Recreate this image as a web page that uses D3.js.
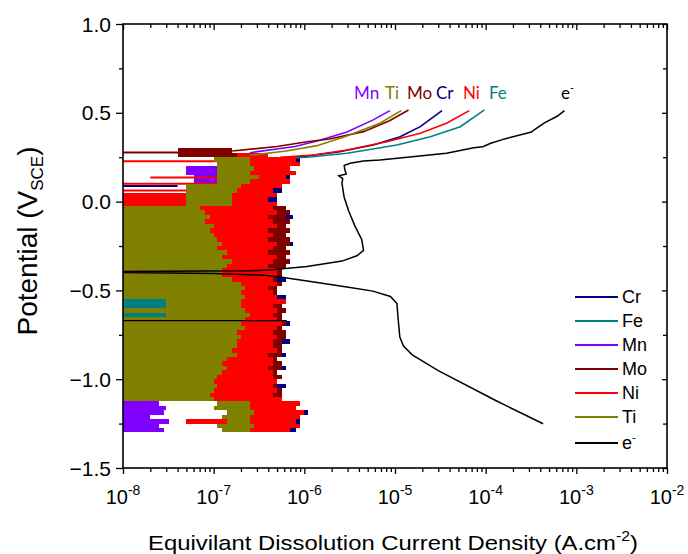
<!DOCTYPE html>
<html>
<head>
<meta charset="utf-8">
<script src="https://cdn.jsdelivr.net/npm/d3@7"></script>
<style>
  body { margin: 0; background: #fff; }
  svg { display: block; }
  text { font-family: "Liberation Sans", Arial, sans-serif; fill: #000; }
</style>
</head>
<body>
<script>
// band boundaries (V vs SCE), the noisy part of each trace is drawn band by band
var potentials = [0.3, 0.275, 0.25, 0.225, 0.2, 0.175, 0.15, 0.125,
  0.1, 0.075, 0.05, 0.025, 0, -0.025, -0.05, -0.075,
  -0.1, -0.125, -0.15, -0.175, -0.2, -0.225, -0.25, -0.275,
  -0.3, -0.325, -0.35, -0.375, -0.4, -0.425, -0.45, -0.475,
  -0.5, -0.525, -0.55, -0.575, -0.6, -0.625, -0.65, -0.675,
  -0.7, -0.725, -0.75, -0.775, -0.8, -0.825, -0.85, -0.875,
  -0.9, -0.925, -0.95, -0.975, -1.0, -1.025, -1.05, -1.075,
  -1.1, -1.125, -1.15, -1.175, -1.2, -1.225, -1.25, -1.275, -1.3];

// left / right edge of each band (A.cm-2)
var crLo = [null, null, 1e-7, 1.1e-7, 1.1e-7, 1.1e-7, 1.1e-7, 1.1e-7,
  5e-8, 5e-8, 1e-8, 1e-8, 1e-8, 1e-8, 1e-8, 1e-8,
  1e-8, 1e-8, 1e-8, 1e-8, 1e-8, 1e-8, 1e-8, 1e-8,
  1e-8, 1e-8, 1e-8, 1e-8, 1e-8, 1e-8, 1e-8, 1e-8,
  1e-8, 1e-8, 3e-8, 3e-8, 1e-8, 3e-8, 1e-8, 1e-8,
  1e-8, 1e-8, 1e-8, 1e-8, 1e-8, 1e-8, 1e-8, 1e-8,
  1e-8, 1e-8, 1e-8, 1e-8, 1e-8, 1e-8, 1e-8, 1e-8,
  1e-8, 2e-7, 2e-7, 2e-7, 2e-7, 2e-7, 2e-7, 2e-7];
var crHi = [null, null, 9e-7, 6e-7, 6e-7, 7e-7, 7e-7, 6e-7,
  5e-7, 5.6e-7, 4.5e-7, 5e-7, 4.5e-7, 4e-7, 5e-7, 7.5e-7,
  4e-7, 4e-7, 5e-7, 4e-7, 4e-7, 7.5e-7, 4e-7, 4e-7,
  4e-7, 5e-7, 4e-7, 4e-7, 4e-7, 6.3e-7, 4e-7, 4e-7,
  4e-7, 6.3e-7, 4e-7, 4e-7, 4e-7, 4e-7, 4e-7, 7e-7,
  4e-7, 4e-7, 4e-7, 7e-7, 4e-7, 4e-7, 6.3e-7, 4e-7,
  4e-7, 6.3e-7, 4e-7, 4e-7, 4e-7, 6.3e-7, 4e-7, 4e-7,
  4e-7, 8e-7, 8e-7, 1.1e-6, 8e-7, 9e-7, 8e-7, 8e-7];

var feLo = [null, null, 1e-7, 1.1e-7, 1.1e-7, 1.1e-7, 1.1e-7, 1.1e-7,
  5e-8, 5e-8, 1e-8, 1e-8, 1e-8, 1e-8, 1e-8, 1e-8,
  1e-8, 1e-8, 1e-8, 1e-8, 1e-8, 1e-8, 1e-8, 1e-8,
  1e-8, 1e-8, 1e-8, 1e-8, 1e-8, 1e-8, 1e-8, 1e-8,
  1e-8, 1e-8, 1e-8, 1e-8, 1e-8, 1e-8, 1e-8, 1e-8,
  1e-8, 1e-8, 1e-8, 1e-8, 1e-8, 1e-8, 1e-8, 1e-8,
  1e-8, 1e-8, 1e-8, 1e-8, 1e-8, 1e-8, 1e-8, 1e-8,
  1e-8, 2e-7, 2e-7, 2e-7, 2e-7, 2e-7, 2e-7, 2e-7];
var feHi = [null, null, 4e-7, 4e-7, 4e-7, 4e-7, 4e-7, 4e-7,
  4e-7, 4e-7, 4e-7, 4e-7, 4e-7, 4e-7, 4e-7, 4e-7,
  4e-7, 4e-7, 4e-7, 4e-7, 4e-7, 4e-7, 4e-7, 4e-7,
  4e-7, 4e-7, 4e-7, 4e-7, 4e-7, 4e-7, 4e-7, 4e-7,
  4e-7, 4e-7, 3e-7, 3e-7, 4e-7, 3e-7, 4e-7, 4e-7,
  4e-7, 4e-7, 4e-7, 4e-7, 4e-7, 4e-7, 4e-7, 4e-7,
  4e-7, 4e-7, 4e-7, 4e-7, 4e-7, 4e-7, 4e-7, 4e-7,
  4e-7, 5e-7, 5e-7, 5e-7, 5e-7, 5e-7, 5e-7, 5e-7];

var mnLo = [null, null, 1e-7, 1.1e-7, 5e-8, 5e-8, 6e-8, 6e-8,
  5e-8, 5e-8, 1e-8, 1e-8, 1e-8, 1e-8, 1e-8, 1e-8,
  1e-8, 1e-8, 1e-8, 1e-8, 1e-8, 1e-8, 1e-8, 1e-8,
  1e-8, 1e-8, 1e-8, 1e-8, 1e-8, 1e-8, 1e-8, 1e-8,
  1e-8, 1e-8, 3e-8, 3e-8, 1e-8, 3e-8, 1e-8, 1e-8,
  1e-8, 1e-8, 1e-8, 1e-8, 1e-8, 1e-8, 1e-8, 1e-8,
  1e-8, 1e-8, 1e-8, 1e-8, 1e-8, 1e-8, 1e-8, 1e-8,
  1e-8, 1e-8, 1e-8, 1e-8, 1e-8, 1e-8, 1e-8, 1e-8];
var mnHi = [null, null, 2e-7, 2e-7, 1.1e-7, 1.1e-7, 1.1e-7, 1.1e-7,
  2e-7, 2e-7, 2e-7, 2e-7, 2e-7, 2e-7, 2e-7, 2e-7,
  2e-7, 2e-7, 2e-7, 2e-7, 2e-7, 2e-7, 2e-7, 2e-7,
  2e-7, 2e-7, 2e-7, 2e-7, 2e-7, 2e-7, 2e-7, 2e-7,
  2e-7, 2e-7, 2e-7, 2e-7, 2e-7, 2e-7, 2e-7, 2e-7,
  2e-7, 2e-7, 2e-7, 2e-7, 2e-7, 2e-7, 2e-7, 2e-7,
  2e-7, 2e-7, 2e-7, 2e-7, 2e-7, 2e-7, 2e-7, 2e-7,
  2e-7, 2.5e-8, 3e-8, 2.8e-8, 2e-8, 3.2e-8, 2.5e-8, 2.8e-8];

var moLo = [4e-8, 4e-8, 1e-7, 1.1e-7, 1.1e-7, 1.1e-7, 1.1e-7, 1.1e-7,
  5e-8, 5e-8, 1e-8, 1e-8, 1e-8, 1e-8, 1e-8, 1e-8,
  1e-8, 1e-8, 1e-8, 1e-8, 1e-8, 1e-8, 1e-8, 1e-8,
  1e-8, 1e-8, 1e-8, 1e-8, 1e-8, 1e-8, 1e-8, 1e-8,
  1e-8, 1e-8, 3e-8, 3e-8, 1e-8, 3e-8, 1e-8, 1e-8,
  1e-8, 1e-8, 1e-8, 1e-8, 1e-8, 1e-8, 1e-8, 1e-8,
  1e-8, 1e-8, 1e-8, 1e-8, 1e-8, 1e-8, 1e-8, 1e-8,
  1e-8, 2e-7, 2e-7, 2e-7, 2e-7, 2e-7, 2e-7, 2e-7];
var moHi = [1.6e-7, 1.8e-7, 4e-7, 4e-7, 4e-7, 4e-7, 4e-7, 4e-7,
  4e-7, 4e-7, 4e-7, 4e-7, 4.5e-7, 6.3e-7, 7e-7, 6.3e-7,
  7e-7, 6.3e-7, 7e-7, 6.3e-7, 7e-7, 7e-7, 6.3e-7, 7e-7,
  6.3e-7, 7e-7, 6.3e-7, 5.6e-7, 5.6e-7, 5e-7, 5.6e-7, 5e-7,
  5e-7, 5e-7, 5.6e-7, 5.6e-7, 6.3e-7, 5.6e-7, 5.6e-7, 6.3e-7,
  5.6e-7, 6.3e-7, 6.3e-7, 5.6e-7, 5.6e-7, 5.6e-7, 5.6e-7, 5e-7,
  5.6e-7, 5.6e-7, 5e-7, 5.6e-7, 5e-7, 5e-7, 5.6e-7, 5.6e-7,
  5e-7, 3.2e-7, 3.2e-7, 3.2e-7, 3.2e-7, 3.2e-7, 3.2e-7, 3.2e-7];

var niLo = [null, 1.8e-7, 1e-7, 1.1e-7, 1.1e-7, 1.1e-7, 1.1e-7, 1.1e-7,
  5e-8, 5e-8, 1e-8, 1e-8, 1e-8, 1e-8, 1e-8, 1e-8,
  1e-8, 1e-8, 1e-8, 1e-8, 1e-8, 1e-8, 1e-8, 1e-8,
  1e-8, 1e-8, 1e-8, 1e-8, 1e-8, 1e-8, 1e-8, 1e-8,
  1e-8, 1e-8, 3e-8, 3e-8, 1e-8, 3e-8, 1e-8, 1e-8,
  1e-8, 1e-8, 1e-8, 1e-8, 1e-8, 1e-8, 1e-8, 1e-8,
  1e-8, 1e-8, 1e-8, 1e-8, 1e-8, 1e-8, 1e-8, 1e-8,
  1e-8, 2e-7, 2.5e-7, 2e-7, 2.2e-7, 5e-8, 2e-7, 2.2e-7];
var niHi = [null, 4e-7, 8e-7, 9e-7, 7e-7, 8e-7, 6.3e-7, 7e-7,
  5.6e-7, 4.5e-7, 5e-7, 4e-7, 5e-7, 4.5e-7, 5e-7, 4e-7,
  4.5e-7, 5e-7, 4e-7, 4.5e-7, 4e-7, 5e-7, 4.5e-7, 4e-7,
  5e-7, 4.5e-7, 4e-7, 5e-7, 5e-7, 4.5e-7, 5e-7, 4e-7,
  4.5e-7, 5e-7, 6.3e-7, 4.5e-7, 5e-7, 4.5e-7, 5e-7, 5.6e-7,
  5e-7, 4.5e-7, 5e-7, 4.5e-7, 4.5e-7, 5e-7, 4e-7, 4.5e-7,
  4.5e-7, 4e-7, 4.5e-7, 4.5e-7, 5e-7, 4.5e-7, 5e-7, 4.5e-7,
  5.6e-7, 9e-7, 8e-7, 1e-6, 9e-7, 8e-7, 9e-7, 7e-7];

var tiLo = [null, null, 1e-7, 1.1e-7, 1.1e-7, 1.1e-7, 1.1e-7, 1.1e-7,
  5e-8, 5e-8, 5e-8, 5e-8, 5e-8, 1e-8, 1e-8, 1e-8,
  1e-8, 1e-8, 1e-8, 1e-8, 1e-8, 1e-8, 1e-8, 1e-8,
  1e-8, 1e-8, 1e-8, 1e-8, 1e-8, 1e-8, 1e-8, 1e-8,
  1e-8, 1e-8, 3e-8, 3e-8, 1e-8, 3e-8, 1e-8, 1e-8,
  1e-8, 1e-8, 1e-8, 1e-8, 1e-8, 1e-8, 1e-8, 1e-8,
  1e-8, 1e-8, 1e-8, 1e-8, 1e-8, 1e-8, 1e-8, 1e-8,
  1e-8, 1.1e-7, 1e-7, 1.4e-7, 1.25e-7, 1.4e-7, 1.1e-7, 1.25e-7];
var tiHi = [null, null, 2.5e-7, 2.5e-7, 2.8e-7, 2.5e-7, 3.2e-7, 2.5e-7,
  2e-7, 1.8e-7, 1.6e-7, 1.6e-7, 1.6e-7, 7e-8, 8e-8, 9e-8,
  8e-8, 1e-7, 9e-8, 1e-7, 1.1e-7, 1.25e-7, 1.1e-7, 1.4e-7,
  1.25e-7, 1.6e-7, 1.4e-7, 1.25e-7, 1.25e-7, 1.6e-7, 2e-7, 2.2e-7,
  2e-7, 2.2e-7, 2e-7, 2e-7, 2.2e-7, 2.5e-7, 2.2e-7, 2e-7,
  2.2e-7, 1.8e-7, 2e-7, 1.8e-7, 1.8e-7, 1.6e-7, 1.8e-7, 1.4e-7,
  1.25e-7, 1.4e-7, 1.25e-7, 1.1e-7, 1e-7, 1.1e-7, 1e-7, 9e-8,
  1e-7, 2.5e-7, 2.5e-7, 2.8e-7, 2.5e-7, 2.5e-7, 2.8e-7, 2.5e-7];

// single thin excursions that stand out from the bands: [potential, from, to]
var crStreaks = [[0.088, 5e-9, 4e-8]];
var moStreaks = [[0.276, 5e-9, 1.6e-7]];
var niStreaks = [[0.227, 5e-9, 8e-7], [0.135, 2e-8, 5e-7], [0.1, 5e-9, 4e-7], [0.062, 5e-9, 3e-7]];

// anodic branches above the noisy region: [potential, current]
var crUpper = [[0.244, 5.4e-7], [0.257, 1.07e-6], [0.281, 2.45e-6], [0.319, 5.75e-6], [0.365, 1.14e-5], [0.422, 1.9e-5], [0.512, 3.3e-5]];
var feUpper = [[0.245, 5.4e-7], [0.25, 1.07e-6], [0.272, 2.95e-6], [0.319, 1.05e-5], [0.365, 2.45e-5], [0.422, 5.25e-5], [0.516, 9.7e-5]];
var mnUpper = [[0.275, 2.5e-7], [0.31, 7.9e-7], [0.345, 1.48e-6], [0.392, 2.95e-6], [0.46, 5.75e-6], [0.512, 8.8e-6]];
var moUpper = [[0.285, 1.6e-7], [0.31, 5e-7], [0.337, 1.07e-6], [0.352, 1.9e-6], [0.394, 4.5e-6], [0.455, 8.7e-6], [0.516, 1.41e-5]];
var niUpper = [[0.25, 5.4e-7], [0.262, 1.26e-6], [0.291, 2.95e-6], [0.337, 8.1e-6], [0.385, 1.9e-5], [0.441, 3.7e-5], [0.512, 6.6e-5]];
var tiUpper = [[0.26, 2.5e-7], [0.285, 6.3e-7], [0.315, 1.38e-6], [0.37, 2.95e-6], [0.441, 6.8e-6], [0.512, 1.17e-5]];

// electron current (total polarisation curve)
var eCurve = [[-1.251, 4.3e-4], [-1.12, 1.29e-4], [-0.952, 3.0e-5], [-0.863, 1.55e-5], [-0.813, 1.24e-5],
  [-0.763, 1.13e-5], [-0.653, 1.08e-5], [-0.574, 1.05e-5], [-0.534, 8.9e-6], [-0.504, 5.7e-6],
  [-0.484, 3.2e-6], [-0.454, 1.33e-6], [-0.424, 5.4e-7], [-0.414, 3.5e-7], [-0.405, 1e-7],
  [-0.398, 5e-9], [-0.394, 5e-9], [-0.39, 2.5e-7], [-0.384, 4.4e-7], [-0.365, 1.07e-6],
  [-0.335, 2.6e-6], [-0.305, 3.8e-6], [-0.275, 4.5e-6], [-0.215, 4.3e-6], [-0.135, 3.6e-6],
  [-0.056, 3.1e-6], [0.024, 2.75e-6], [0.104, 2.6e-6], [0.13, 2.65e-6], [0.145, 2.4e-6],
  [0.155, 2.9e-6], [0.178, 2.8e-6], [0.203, 2.75e-6], [0.216, 3.2e-6], [0.228, 4.5e-6],
  [0.234, 6.8e-6], [0.243, 1e-5], [0.272, 3.7e-5], [0.303, 7.4e-5], [0.309, 9.3e-5],
  [0.327, 1.12e-4], [0.353, 1.62e-4], [0.392, 3.2e-4], [0.403, 3.4e-4], [0.442, 4.4e-4],
  [0.482, 6.2e-4], [0.512, 7.4e-4]];
var eSpike = [[-0.67, 5e-9], [-0.67, 6.4e-7]];

var names = ["Cr", "Fe", "Mn", "Mo", "Ni", "Ti"];
var colors = ["#000080", "#008080", "#8000ff", "#800000", "#ff0000", "#808000"];
var topLabels = ["Mn", "Ti", "Mo", "Cr", "Ni", "Fe"];
var topLabelX = [354, 385, 407, 436, 463, 489];

var series = [
  {name: "Cr", lo: crLo, hi: crHi, up: crUpper, streaks: crStreaks},
  {name: "Fe", lo: feLo, hi: feHi, up: feUpper, streaks: []},
  {name: "Mn", lo: mnLo, hi: mnHi, up: mnUpper, streaks: []},
  {name: "Mo", lo: moLo, hi: moHi, up: moUpper, streaks: moStreaks},
  {name: "Ni", lo: niLo, hi: niHi, up: niUpper, streaks: niStreaks},
  {name: "Ti", lo: tiLo, hi: tiHi, up: tiUpper, streaks: []}
];

var w = 688, h = 554;
var margin = {top: 24, right: 21, bottom: 86, left: 123};
var innerW = w - margin.left - margin.right,
    innerH = h - margin.top - margin.bottom;

var svg = d3.select("body").append("svg")
    .attr("width", w)
    .attr("height", h);

var x = d3.scaleLog().domain([1e-8, 1e-2]).range([margin.left, margin.left + innerW]);
var y = d3.scaleLinear().domain([-1.5, 1.0]).range([margin.top + innerH, margin.top]);

svg.append("clipPath").attr("id", "plotClip")
  .append("rect")
    .attr("x", margin.left).attr("y", margin.top)
    .attr("width", innerW).attr("height", innerH);

var plot = svg.append("g").attr("clip-path", "url(#plotClip)");

var line = d3.line()
    .x(function (d) { return x(d[1]); })
    .y(function (d) { return y(d[0]); });

series.forEach(function (s) {
  var color = colors[names.indexOf(s.name)];
  var rows = [];
  s.lo.forEach(function (lo, i) {
    if (lo != null && s.hi[i] != null) {
      rows.push({top: potentials[i], bottom: potentials[i + 1], lo: lo, hi: s.hi[i]});
    }
  });
  var g = plot.append("g").attr("class", "series " + s.name);
  g.selectAll("rect")
    .data(rows)
    .enter().append("rect")
      .attr("x", function (d) { return x(d.lo); })
      .attr("y", function (d) { return y(d.top); })
      .attr("width", function (d) { return x(d.hi) - x(d.lo); })
      .attr("height", function (d) { return y(d.bottom) - y(d.top); })
      .style("fill", color)
      .style("shape-rendering", "crispEdges");
  g.selectAll("line.streak")
    .data(s.streaks)
    .enter().append("line")
      .attr("class", "streak")
      .attr("x1", function (d) { return x(d[1]); })
      .attr("x2", function (d) { return x(d[2]); })
      .attr("y1", function (d) { return y(d[0]); })
      .attr("y2", function (d) { return y(d[0]); })
      .style("stroke", color)
      .style("stroke-width", 2);
  g.append("path")
    .datum(s.up)
    .attr("d", line)
    .style("fill", "none")
    .style("stroke", color)
    .style("stroke-width", 1.6);
});

plot.append("path").datum(eSpike).attr("d", line)
  .style("fill", "none").style("stroke", "#000").style("stroke-width", 1.3);
plot.append("path").datum(eCurve).attr("d", line)
  .style("fill", "none").style("stroke", "#000").style("stroke-width", 1.5);

// axes
var decades = [1e-8, 1e-7, 1e-6, 1e-5, 1e-4, 1e-3, 1e-2];
var minorX = [];
decades.slice(0, -1).forEach(function (d) {
  for (var k = 2; k < 10; k++) minorX.push(d * k);
});
var majorY = [-1.5, -1.0, -0.5, 0, 0.5, 1.0];
var minorY = [-1.25, -0.75, -0.25, 0.25, 0.75];

function tidy(g) {
  g.select(".domain").remove();
  g.selectAll("line").style("stroke", "#000").style("stroke-width", 1.3);
  g.selectAll("text").remove();
}

svg.append("g").attr("transform", "translate(0," + (margin.top + innerH) + ")")
  .call(d3.axisBottom(x).tickValues(decades).tickSize(6).tickFormat("")).call(tidy);
svg.append("g").attr("transform", "translate(0," + (margin.top + innerH) + ")")
  .call(d3.axisBottom(x).tickValues(minorX).tickSize(4).tickFormat("")).call(tidy);
svg.append("g").attr("transform", "translate(0," + margin.top + ")")
  .call(d3.axisTop(x).tickValues(decades).tickSize(-6).tickFormat("")).call(tidy);
svg.append("g").attr("transform", "translate(0," + margin.top + ")")
  .call(d3.axisTop(x).tickValues(minorX).tickSize(-4).tickFormat("")).call(tidy);
svg.append("g").attr("transform", "translate(" + margin.left + ",0)")
  .call(d3.axisLeft(y).tickValues(majorY).tickSize(7).tickFormat("")).call(tidy);
svg.append("g").attr("transform", "translate(" + margin.left + ",0)")
  .call(d3.axisLeft(y).tickValues(minorY).tickSize(4).tickFormat("")).call(tidy);
svg.append("g").attr("transform", "translate(" + (margin.left + innerW) + ",0)")
  .call(d3.axisRight(y).tickValues(majorY).tickSize(-5).tickFormat("")).call(tidy);
svg.append("g").attr("transform", "translate(" + (margin.left + innerW) + ",0)")
  .call(d3.axisRight(y).tickValues(minorY).tickSize(-4).tickFormat("")).call(tidy);

svg.append("rect")
  .attr("x", margin.left).attr("y", margin.top)
  .attr("width", innerW).attr("height", innerH)
  .style("fill", "none").style("stroke", "#000").style("stroke-width", 1.6);

// tick labels
svg.selectAll(".ylab").data(majorY).enter().append("text")
  .attr("class", "ylab")
  .attr("x", margin.left - 12)
  .attr("y", function (d) { return y(d); })
  .attr("dy", "0.36em")
  .attr("text-anchor", "end")
  .style("font-size", "21px")
  .text(function (d) { return d3.format(".1f")(d); });

var xlab = svg.selectAll(".xlab").data(decades).enter().append("text")
  .attr("class", "xlab")
  .attr("x", function (d) { return x(d); })
  .attr("y", 504)
  .attr("text-anchor", "middle")
  .style("font-size", "20px");
xlab.append("tspan").text("10");
xlab.append("tspan").attr("dy", -9).style("font-size", "14px")
  .text(function (d) { return Math.round(Math.log10(d)); });

// axis titles
var yt = svg.append("text")
  .attr("transform", "translate(37," + (margin.top + 217) + ") rotate(-90)")
  .attr("text-anchor", "middle")
  .style("font-size", "28px");
yt.append("tspan").text("Potential (V");
yt.append("tspan").attr("dy", 6).style("font-size", "17px").text("SCE");
yt.append("tspan").attr("dy", -6).text(")");

var xt = svg.append("text")
  .attr("x", 148).attr("y", 550)
  .attr("textLength", 490).attr("lengthAdjust", "spacingAndGlyphs")
  .style("font-size", "21px");
xt.append("tspan").text("Equivilant Dissolution Current Density (A.cm");
xt.append("tspan").attr("dy", -9).style("font-size", "14px").text("-2");
xt.append("tspan").attr("dy", 9).text(")");

// labels at the end of each curve
svg.selectAll(".endlab").data(topLabels).enter().append("text")
  .attr("class", "endlab")
  .attr("x", function (d, i) { return topLabelX[i]; })
  .attr("y", 99)
  .style("font-family", "Lato, 'Open Sans', sans-serif")
  .style("font-size", "17px")
  .style("fill", function (d) { return colors[names.indexOf(d)]; })
  .text(function (d) { return d; });
var el = svg.append("text").attr("x", 561).attr("y", 99)
  .style("font-family", "Lato, 'Open Sans', sans-serif").style("font-size", "17px");
el.append("tspan").text("e");
el.append("tspan").attr("dy", -7).style("font-size", "11px").text("-");

// legend
var legendNames = names.concat(["e"]);
var legendColors = colors.concat(["#000"]);
var lg = svg.selectAll(".lg").data(legendNames).enter().append("g")
  .attr("class", "lg")
  .attr("transform", function (d, i) { return "translate(575," + (297 + i * 24 + (i === 6 ? 2 : 0)) + ")"; });
lg.append("line")
  .attr("x1", 0).attr("x2", 43)
  .style("stroke", function (d, i) { return legendColors[i]; })
  .style("stroke-width", 2);
var lt = lg.append("text")
  .attr("x", 47).attr("dy", "0.36em")
  .style("font-size", "18px");
lt.append("tspan").text(function (d) { return d; });
lt.filter(function (d) { return d === "e"; })
  .append("tspan").attr("dy", -8).style("font-size", "11px").text("-");
</script>
</body>
</html>
